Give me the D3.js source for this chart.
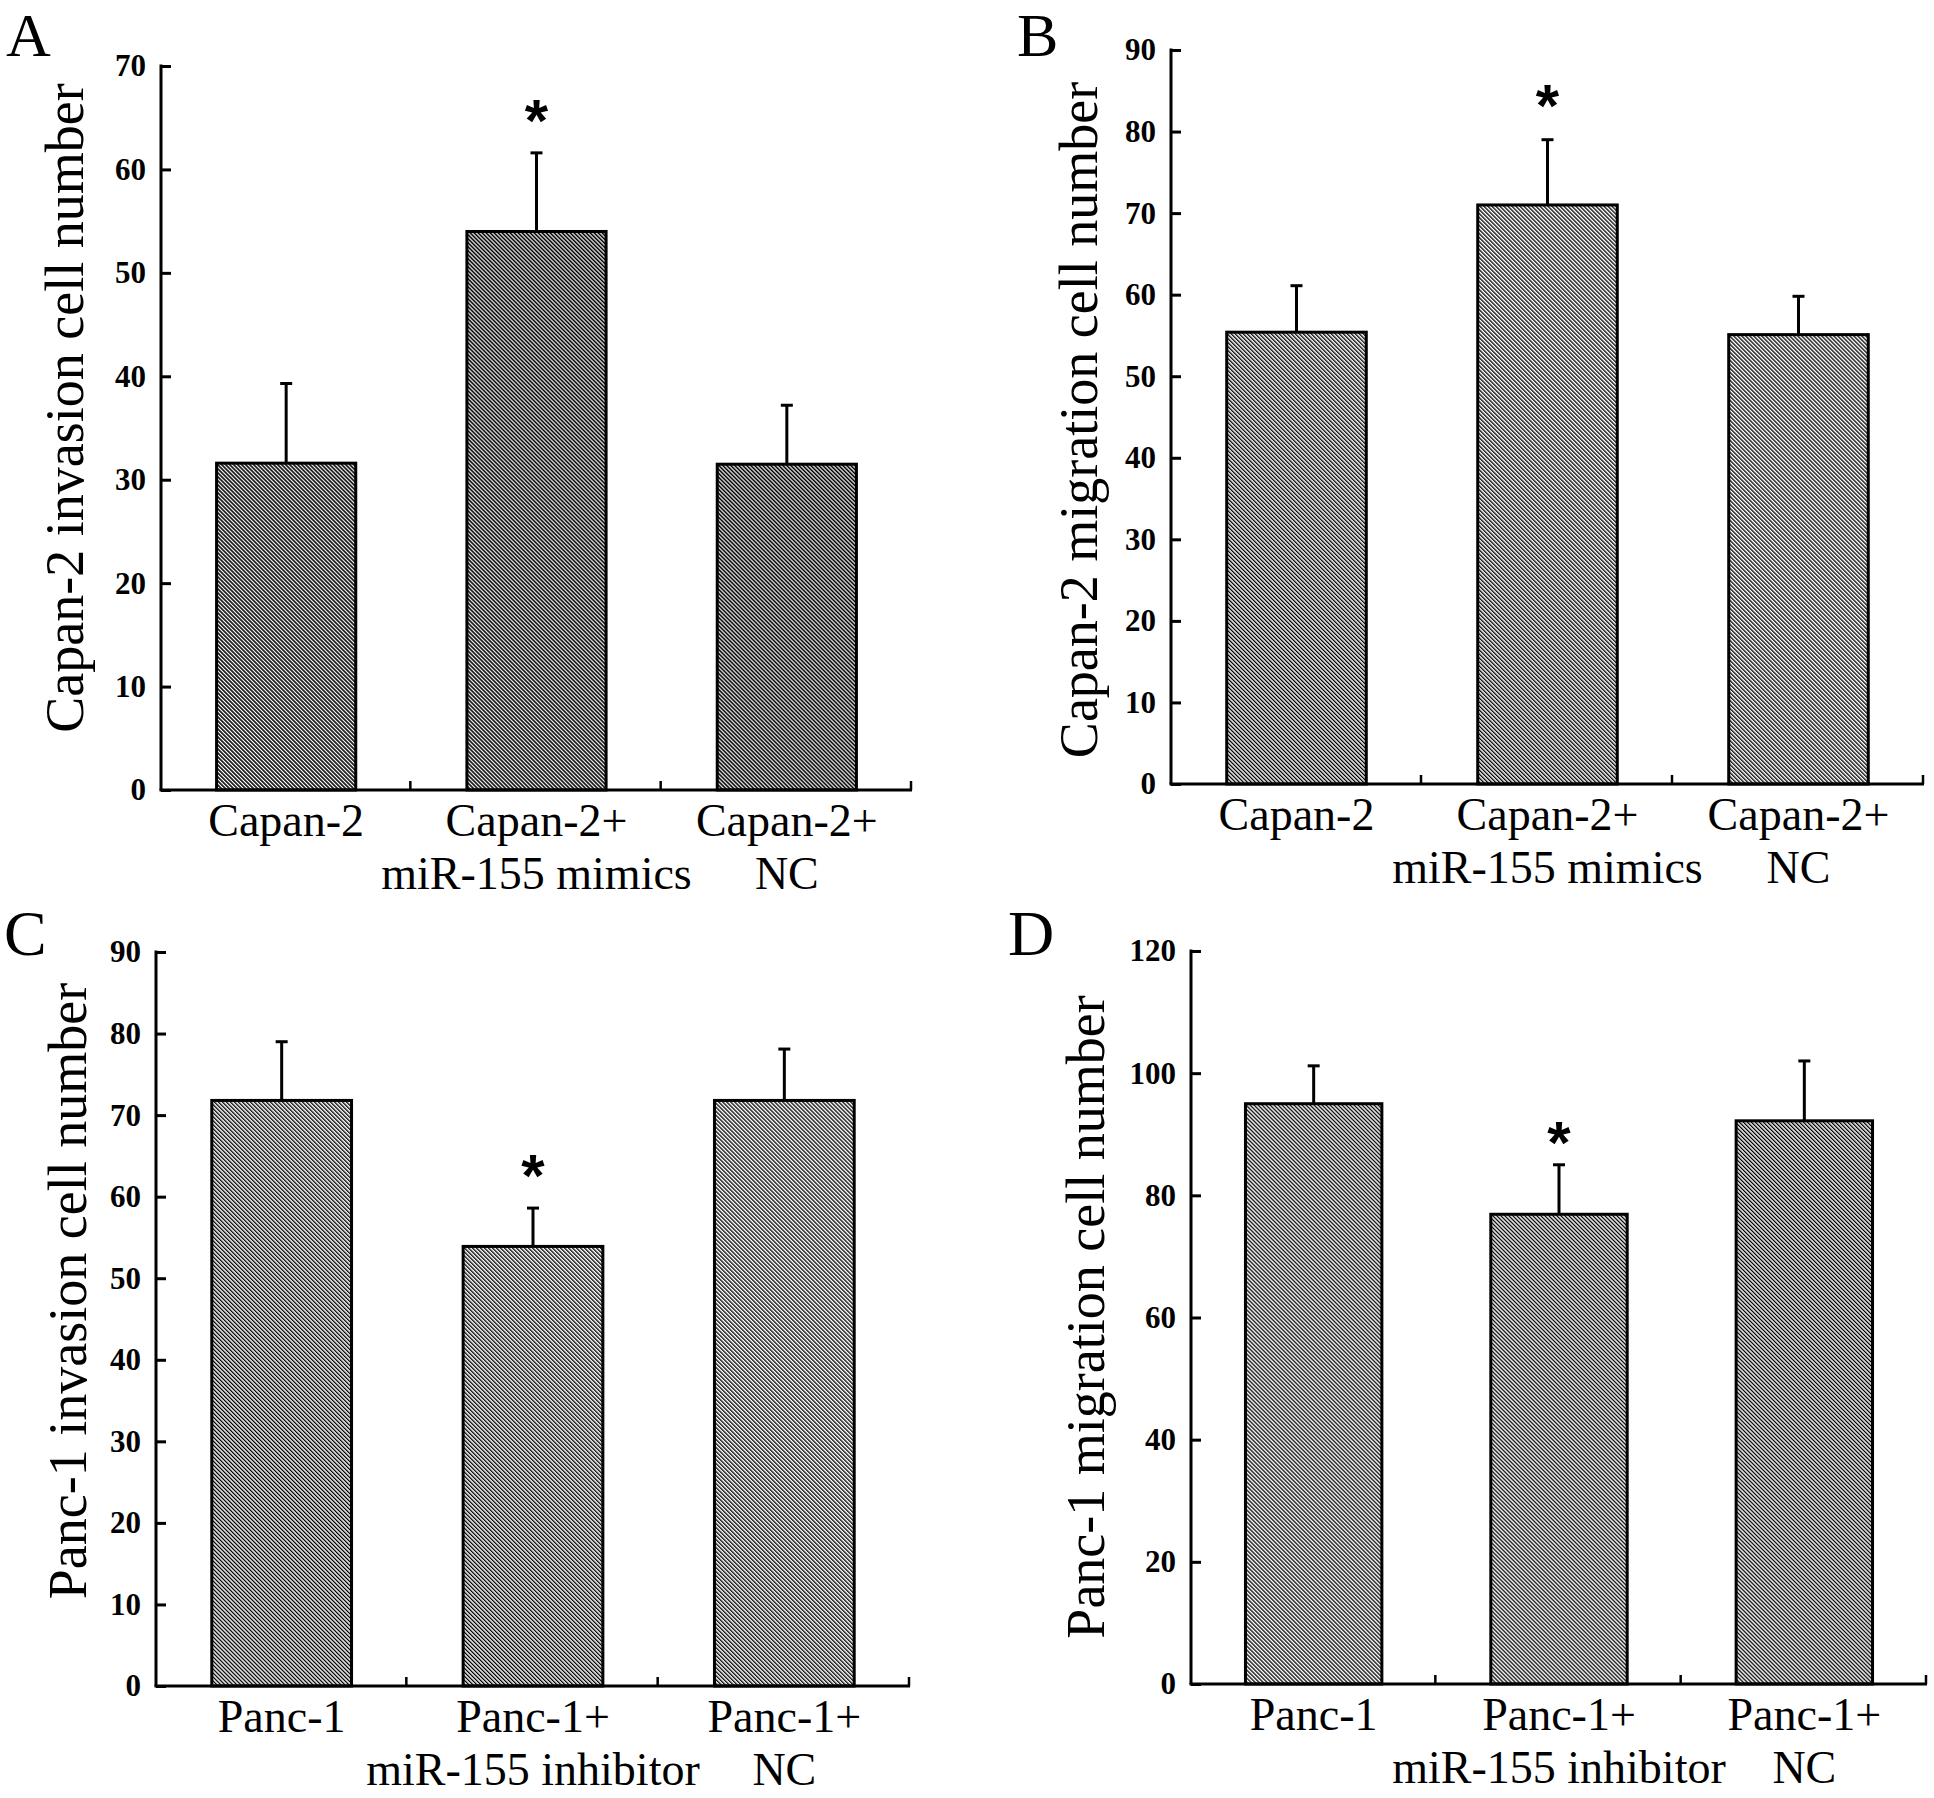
<!DOCTYPE html>
<html>
<head>
<meta charset="utf-8">
<script src="https://cdn.jsdelivr.net/npm/d3@7"></script>
<style>
  html, body { margin: 0; padding: 0; background: #fff; }
  svg { display: block; }
</style>
</head>
<body>
<svg id="chart" width="1934" height="1798"></svg>
<script>
// ---------------- DATA ----------------
const panelLetters = ["A", "B", "C", "D"];

const categoriesA = [["Capan-2"], ["Capan-2+", "miR-155 mimics"], ["Capan-2+", "NC"]];
const categoriesB = [["Capan-2"], ["Capan-2+", "miR-155 mimics"], ["Capan-2+", "NC"]];
const categoriesC = [["Panc-1"], ["Panc-1+", "miR-155 inhibitor"], ["Panc-1+", "NC"]];
const categoriesD = [["Panc-1"], ["Panc-1+", "miR-155 inhibitor"], ["Panc-1+", "NC"]];

const meansA = [31.6, 54.0, 31.5];
const errorsA = [7.7, 7.6, 5.7];
const meansB = [55.4, 71.0, 55.1];
const errorsB = [5.7, 8.0, 4.7];
const meansC = [71.8, 53.9, 71.8];
const errorsC = [7.2, 4.7, 6.3];
const meansD = [95.0, 76.9, 92.2];
const errorsD = [6.2, 8.1, 9.8];

const significantA = [false, true, false];
const significantB = [false, true, false];
const significantC = [false, true, false];
const significantD = [false, true, false];

const yTitles = [
  "Capan-2 invasion cell number",
  "Capan-2 migration cell number",
  "Panc-1 invasion cell number",
  "Panc-1 migration cell number"
];
const yMaxes = [70, 90, 90, 120];
const yTickSteps = [10, 10, 10, 20];

// ---------------- LAYOUT (positions only) ----------------
const frames = [
  { x0: 161,  x1: 912,  y0: 790,  y1: 66,  letterX: 6,    letterY: 56,  letterSize: 62, titleX: 83,   titleY: 408,  hatchW: 1.6, starGap: 12 },
  { x0: 1171, x1: 1924, y0: 784,  y1: 50,  letterX: 1017, letterY: 56,  letterSize: 62, titleX: 1097, titleY: 420,  hatchW: 1.3, starGap: 14 },
  { x0: 156,  x1: 910,  y0: 1686, y1: 952, letterX: 4,    letterY: 955, letterSize: 64, titleX: 86,   titleY: 1291, hatchW: 1.3, starGap: 12 },
  { x0: 1191, x1: 1927, y0: 1684, y1: 951, letterX: 1008, letterY: 955, letterSize: 64, titleX: 1104, titleY: 1317, hatchW: 1.3, starGap: 2 }
];

const panelData = [
  { cats: categoriesA, means: meansA, errs: errorsA, sig: significantA },
  { cats: categoriesB, means: meansB, errs: errorsB, sig: significantB },
  { cats: categoriesC, means: meansC, errs: errorsC, sig: significantC },
  { cats: categoriesD, means: meansD, errs: errorsD, sig: significantD }
];

const SERIF = "'Liberation Serif', 'Times New Roman', serif";
const svg = d3.select("#chart");
svg.append("rect").attr("width", 1934).attr("height", 1798).attr("fill", "#fff");

const defs = svg.append("defs");

panelData.forEach((pd, i) => {
  const f = frames[i];
  const pid = "hatch" + i;
  const pat = defs.append("pattern")
    .attr("id", pid)
    .attr("patternUnits", "userSpaceOnUse")
    .attr("width", 2.83).attr("height", 10)
    .attr("patternTransform", "rotate(-45)");
  pat.append("rect").attr("width", 2.83).attr("height", 10).attr("fill", "#fff");
  pat.append("rect").attr("x", 0).attr("width", f.hatchW).attr("height", 10).attr("fill", "#000");

  const g = svg.append("g");

  const x = d3.scaleBand()
    .domain(d3.range(pd.means.length))
    .range([f.x0, f.x1])
    .paddingInner(0.444)
    .paddingOuter(0.222);
  const y = d3.scaleLinear().domain([0, yMaxes[i]]).range([f.y0, f.y1]);

  // bars
  g.selectAll("rect.bar").data(pd.means).enter().append("rect")
    .attr("class", "bar")
    .attr("x", (d, j) => x(j))
    .attr("y", d => y(d))
    .attr("width", x.bandwidth())
    .attr("height", d => y(0) - y(d))
    .attr("fill", `url(#${pid})`)
    .attr("stroke", "#000")
    .attr("stroke-width", 3);

  // error bars
  const cx = j => x(j) + x.bandwidth() / 2;
  g.selectAll("line.err").data(pd.means).enter().append("line")
    .attr("x1", (d, j) => cx(j)).attr("x2", (d, j) => cx(j))
    .attr("y1", d => y(d)).attr("y2", (d, j) => y(d + pd.errs[j]))
    .attr("stroke", "#000").attr("stroke-width", 3);
  g.selectAll("line.cap").data(pd.means).enter().append("line")
    .attr("x1", (d, j) => cx(j) - 6).attr("x2", (d, j) => cx(j) + 6)
    .attr("y1", (d, j) => y(d + pd.errs[j])).attr("y2", (d, j) => y(d + pd.errs[j]))
    .attr("stroke", "#000").attr("stroke-width", 3);

  // stars
  g.selectAll("text.star").data(pd.means.map((d, j) => ({ d, j })).filter(o => pd.sig[o.j]))
    .enter().append("text")
    .attr("x", o => cx(o.j))
    .attr("y", o => y(o.d + pd.errs[o.j]) - f.starGap)
    .attr("text-anchor", "middle")
    .attr("font-family", "'Liberation Sans', Arial, sans-serif")
    .attr("font-weight", "bold")
    .attr("font-size", 60)
    .text("*");

  // y axis
  const ticks = d3.range(0, yMaxes[i] + 0.001, yTickSteps[i]);
  const yAxis = d3.axisLeft(y).tickValues(ticks).tickSize(-10).tickPadding(15).tickFormat(d3.format("d"));
  const ya = g.append("g").attr("transform", `translate(${f.x0},0)`).call(yAxis);
  ya.select(".domain").attr("stroke-width", 3).attr("d", `M0,${f.y1 - 1.5}V${f.y0}`);
  ya.selectAll(".tick line").attr("stroke-width", 3);
  ya.selectAll(".tick text")
    .attr("font-family", SERIF).attr("font-weight", "bold").attr("font-size", 31).attr("fill", "#000");

  // x axis
  const xa = g.append("g").attr("transform", `translate(0,${f.y0})`);
  xa.append("line").attr("x1", f.x0 - 1.5).attr("x2", f.x1).attr("y1", 0).attr("y2", 0)
    .attr("stroke", "#000").attr("stroke-width", 3);
  const bounds = d3.range(1, pd.means.length + 1).map(k => f.x0 + k * (f.x1 - f.x0) / pd.means.length);
  xa.selectAll("line.bt").data(bounds).enter().append("line")
    .attr("x1", d => d - 1).attr("x2", d => d - 1).attr("y1", 0).attr("y2", -9)
    .attr("stroke", "#000").attr("stroke-width", 2.5);

  // category labels
  const lab = xa.selectAll("text.cat").data(pd.cats).enter().append("text")
    .attr("text-anchor", "middle")
    .attr("font-family", SERIF).attr("font-size", 46).attr("fill", "#000")
    .attr("transform", (d, j) => `translate(${cx(j)},46)`);
  lab.selectAll("tspan").data(d => d).enter().append("tspan")
    .attr("x", 0).attr("y", (d, k) => k * 53).text(d => d);

  // y title
  svg.append("text")
    .attr("transform", `translate(${f.titleX},${f.titleY}) rotate(-90)`)
    .attr("text-anchor", "middle")
    .attr("font-family", SERIF).attr("font-size", 54).attr("fill", "#000")
    .text(yTitles[i]);

  // panel letter
  svg.append("text")
    .attr("x", f.letterX).attr("y", f.letterY)
    .attr("font-family", SERIF).attr("font-size", f.letterSize).attr("fill", "#000")
    .text(panelLetters[i]);
});
</script>
</body>
</html>
